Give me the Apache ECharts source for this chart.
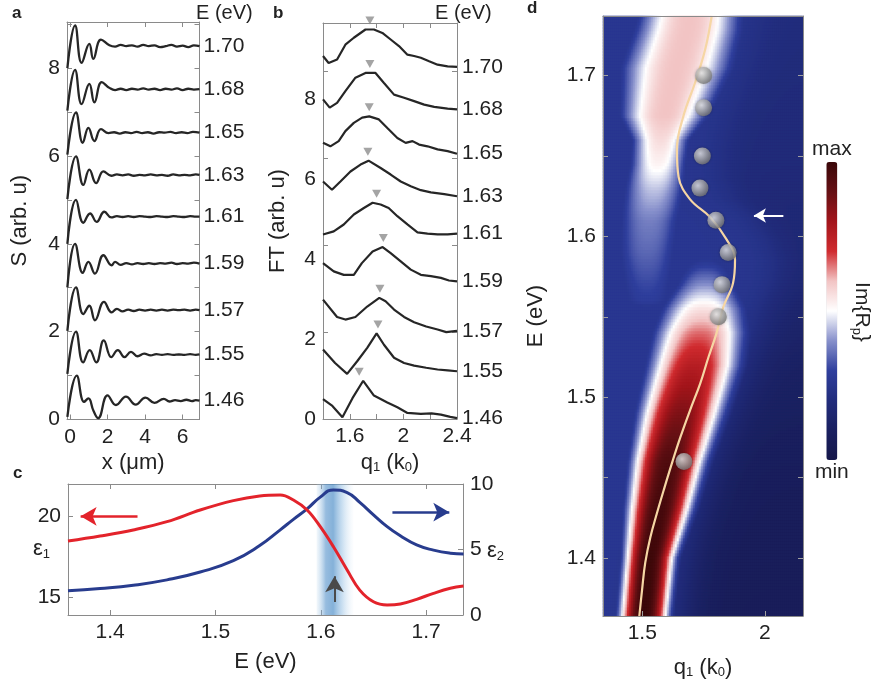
<!DOCTYPE html>
<html>
<head>
<meta charset="utf-8">
<title>Near-field profiles, spectra and dispersion</title>
<script src="https://cdn.jsdelivr.net/npm/echarts@6.0.0/dist/echarts.min.js"></script>
<style>
  html, body { margin: 0; padding: 0; background: #fff; }
  #chart { width: 876px; height: 685px; }
</style>
</head>
<body>
<div id="chart"></div>
<script>
// ---------------- data ----------------
// photon energies (eV) of the measured profiles, bottom to top
const energyLabels = ['1.46', '1.55', '1.57', '1.59', '1.61', '1.63', '1.65', '1.68', '1.70'];

// (a) near-field line profiles S(x), x in um, each offset by one unit
const profile146 = [[-0.14,0.06],[0.36,1.0],[0.75,0.4],[0.98,0.48],[1.25,0.2],[1.5,0.03],[2.0,0.55],[2.45,0.33],[2.98,0.52],[3.5,0.34],[4.02,0.5],[4.5,0.38],[5.0,0.47],[5.3,0.41],[5.6,0.44],[5.9,0.42],[6.2,0.45],[6.5,0.42],[6.7,0.44],[6.9,0.43]];
const profile155 = [[-0.14,1.04],[0.32,2.0],[0.7,1.3],[1.05,1.58],[1.4,1.3],[1.8,1.8],[2.2,1.42],[2.55,1.58],[2.9,1.42],[3.25,1.54],[3.6,1.44],[3.95,1.5],[4.3,1.46],[4.6,1.49],[4.9,1.47],[5.2,1.49],[5.5,1.47],[5.8,1.48],[6.1,1.47],[6.4,1.49],[6.7,1.47],[6.9,1.48]];
const profile157 = [[-0.14,2.02],[0.32,3.01],[0.71,2.4],[1.03,2.59],[1.33,2.26],[1.81,2.68],[2.22,2.44],[2.5,2.52],[2.8,2.46],[3.1,2.5],[3.4,2.47],[3.7,2.5],[4.0,2.48],[4.3,2.5],[4.6,2.48],[4.9,2.5],[5.2,2.48],[5.5,2.5],[5.8,2.49],[6.1,2.5],[6.4,2.48],[6.7,2.5],[6.9,2.49]];
const profile159 = [[-0.14,3.01],[0.27,4.0],[0.68,3.34],[0.98,3.59],[1.33,3.32],[1.78,3.74],[2.22,3.51],[2.4,3.59],[2.7,3.52],[3.0,3.56],[3.3,3.53],[3.6,3.56],[3.9,3.54],[4.2,3.56],[4.5,3.54],[4.8,3.56],[5.1,3.55],[5.4,3.57],[5.7,3.54],[6.0,3.56],[6.3,3.55],[6.6,3.57],[6.9,3.55]];
const profile161 = [[-0.14,4.0],[0.32,5.0],[0.71,4.48],[1.07,4.69],[1.42,4.5],[1.83,4.73],[2.2,4.6],[2.5,4.63],[2.8,4.61],[3.1,4.63],[3.4,4.61],[3.7,4.63],[4.0,4.62],[4.3,4.61],[4.6,4.63],[4.9,4.62],[5.2,4.61],[5.5,4.63],[5.8,4.62],[6.1,4.61],[6.4,4.63],[6.7,4.62],[6.9,4.62]];
const profile163 = [[-0.14,5.02],[0.32,5.99],[0.71,5.34],[1.03,5.69],[1.39,5.38],[1.78,5.65],[2.2,5.55],[2.5,5.58],[2.8,5.56],[3.1,5.58],[3.4,5.55],[3.7,5.57],[4.0,5.56],[4.3,5.58],[4.6,5.56],[4.9,5.57],[5.2,5.55],[5.5,5.58],[5.8,5.56],[6.1,5.57],[6.4,5.56],[6.7,5.58],[6.9,5.57]];
const profile165 = [[-0.14,6.03],[0.32,6.99],[0.68,6.3],[0.98,6.64],[1.3,6.34],[1.65,6.61],[2.05,6.52],[2.35,6.54],[2.65,6.51],[2.95,6.54],[3.25,6.52],[3.55,6.55],[3.85,6.52],[4.15,6.54],[4.45,6.51],[4.75,6.54],[5.05,6.53],[5.35,6.55],[5.65,6.52],[5.95,6.54],[6.25,6.52],[6.55,6.55],[6.9,6.53]];
const profile168 = [[-0.14,7.03],[0.27,7.96],[0.62,7.18],[1.03,7.64],[1.3,7.22],[1.69,7.68],[2.1,7.55],[2.4,7.5],[2.7,7.53],[3.0,7.5],[3.3,7.53],[3.6,7.51],[3.9,7.54],[4.2,7.51],[4.5,7.53],[4.8,7.5],[5.1,7.53],[5.4,7.51],[5.7,7.54],[6.0,7.5],[6.3,7.53],[6.6,7.51],[6.9,7.52]];
const profile170 = [[-0.14,8.0],[0.27,8.97],[0.62,8.12],[1.03,8.55],[1.24,8.21],[1.65,8.65],[2.1,8.52],[2.4,8.49],[2.7,8.53],[3.0,8.5],[3.3,8.52],[3.6,8.49],[3.9,8.53],[4.2,8.5],[4.5,8.52],[4.8,8.48],[5.1,8.5],[5.4,8.53],[5.7,8.49],[6.0,8.51],[6.3,8.48],[6.6,8.52],[6.9,8.5]];
const profiles = [profile146, profile155, profile157, profile159, profile161, profile163, profile165, profile168, profile170];

// (b) Fourier spectra FT(q1), q1 in k0, offset by one unit
const spectrum146 = [[1.40,0.46],[1.47,0.30],[1.545,0.04],[1.62,0.48],[1.70,0.88],[1.78,0.54],[1.88,0.38],[1.955,0.27],[2.03,0.14],[2.13,0.12],[2.21,0.13],[2.28,0.10],[2.35,0.05],[2.40,0.02]];
const spectrum155 = [[1.40,1.60],[1.49,1.29],[1.58,1.04],[1.655,1.33],[1.73,1.64],[1.80,1.97],[1.855,1.71],[1.93,1.41],[2.005,1.29],[2.08,1.23],[2.17,1.18],[2.255,1.14],[2.33,1.12],[2.40,1.10]];
const spectrum157 = [[1.40,2.75],[1.505,2.35],[1.567,2.29],[1.642,2.35],[1.73,2.59],[1.82,2.79],[1.867,2.71],[1.93,2.52],[2.005,2.35],[2.08,2.23],[2.17,2.13],[2.255,2.06],[2.32,2.0],[2.40,2.03]];
const spectrum159 = [[1.40,3.59],[1.48,3.40],[1.555,3.32],[1.63,3.32],[1.69,3.59],[1.77,3.86],[1.845,3.96],[1.905,3.82],[1.98,3.63],[2.055,3.44],[2.13,3.32],[2.205,3.29],[2.28,3.25],[2.34,3.19],[2.40,3.17]];
const spectrum161 = [[1.40,4.25],[1.48,4.32],[1.555,4.48],[1.63,4.71],[1.705,4.86],[1.77,4.98],[1.83,4.94],[1.89,4.86],[1.955,4.67],[2.03,4.48],[2.105,4.30],[2.18,4.27],[2.255,4.25],[2.33,4.25],[2.40,4.27]];
const spectrum163 = [[1.40,5.47],[1.467,5.28],[1.53,5.47],[1.605,5.70],[1.68,5.86],[1.74,5.95],[1.83,5.78],[1.905,5.63],[1.98,5.47],[2.055,5.36],[2.13,5.27],[2.205,5.22],[2.305,5.18],[2.40,5.13]];
const spectrum165 = [[1.40,6.36],[1.455,6.28],[1.517,6.40],[1.567,6.63],[1.63,6.82],[1.692,6.94],[1.745,6.97],[1.817,6.90],[1.88,6.70],[1.955,6.47],[2.017,6.36],[2.068,6.40],[2.117,6.32],[2.18,6.28],[2.255,6.21],[2.33,6.17],[2.40,6.11]];
const spectrum168 = [[1.40,7.36],[1.45,7.17],[1.505,7.28],[1.567,7.55],[1.642,7.86],[1.717,7.97],[1.792,7.97],[1.855,7.74],[1.93,7.47],[2.005,7.40],[2.08,7.32],[2.155,7.24],[2.23,7.19],[2.33,7.15],[2.40,7.13]];
const spectrum170 = [[1.40,8.36],[1.442,8.20],[1.505,8.28],[1.567,8.62],[1.63,8.78],[1.717,8.97],[1.78,8.97],[1.843,8.89],[1.905,8.74],[1.967,8.59],[2.03,8.39],[2.08,8.36],[2.13,8.32],[2.192,8.24],[2.255,8.16],[2.33,8.12],[2.40,8.11]];
const spectra = [spectrum146, spectrum155, spectrum157, spectrum159, spectrum161, spectrum163, spectrum165, spectrum168, spectrum170];

// FT peak positions (q1 in k0) and peak heights, one per energy
const peakQ  = [1.67, 1.81, 1.825, 1.85, 1.80, 1.735, 1.745, 1.75, 1.75];
const peakFT = [0.88, 1.97, 2.79, 3.96, 4.98, 5.95, 6.97, 7.97, 8.97];

// (c) dielectric function of the film
const dielE = [1.36,1.3905,1.422,1.454,1.4855,1.517,1.542,1.5615,1.574,1.587,1.5995,1.612,1.625,1.637,1.650,1.663,1.6755,1.691,1.707,1.723,1.7355];
const eps1  = [18.47,18.78,19.16,19.67,20.39,20.97,21.26,21.32,21.01,20.39,19.36,18.12,16.68,15.44,14.72,14.52,14.58,14.87,15.24,15.55,15.69];
const eps2  = [1.85,2.02,2.27,2.68,3.28,4.15,5.3,6.5,7.3,8.1,9.0,9.55,9.35,8.6,7.65,6.75,6.05,5.35,4.95,4.72,4.66];

// (d) calculated dispersion ridge (E in eV, q1 in k0)
const ridgeE = [1.364,1.380,1.397,1.413,1.428,1.442,1.459,1.475,1.492,1.5085,1.525,1.540,1.556,1.571,1.5855,1.598,1.612,1.623,1.637,1.654,1.675,1.6955,1.716,1.737];
const ridgeQ = [1.488,1.499,1.512,1.533,1.560,1.587,1.621,1.655,1.695,1.736,1.770,1.803,1.830,1.870,1.878,1.844,1.776,1.695,1.648,1.641,1.668,1.715,1.756,1.783];

// Im{Rp} map: lower lobe, its centre, width and peak level
const lowLobeE  = [1.36, 1.40, 1.43, 1.46, 1.49, 1.52, 1.54, 1.555, 1.57, 1.59, 1.61];
const lowLobeQ  = [1.505, 1.531, 1.57, 1.608, 1.658, 1.712, 1.736, 1.75, 1.76, 1.76, 1.76];
const lowLobeW  = [0.102, 0.106, 0.133, 0.152, 0.176, 0.194, 0.2, 0.19, 0.16, 0.14, 0.12];
const lowLobePk = [1.0, 0.99, 0.975, 0.95, 0.86, 0.76, 0.66, 0.55, 0.40, 0.22, 0];
// upper lobe
const upLobeE  = [1.53, 1.56, 1.59, 1.61, 1.63, 1.645, 1.66, 1.675, 1.705, 1.728, 1.74];
const upLobeQ  = [1.52, 1.52, 1.52, 1.53, 1.55, 1.565, 1.575, 1.59, 1.64, 1.685, 1.70];
const upLobeW  = [0.17, 0.17, 0.17, 0.165, 0.15, 0.13, 0.13, 0.195, 0.245, 0.235, 0.225];
const upLobePk = [0, 0.29, 0.35, 0.38, 0.45, 0.52, 0.56, 0.6, 0.6, 0.6, 0.6];
// background level far from the ridge (right side) and near it
const bgE     = [1.36, 1.45, 1.52, 1.58, 1.65, 1.74];
const bgRight = [0.07, 0.08, 0.11, 0.16, 0.19, 0.2];
const bgNear  = 0.26;

// colour scale of the map, min to max
const mapColors = ['#15174a','#1a2060','#212c7c','#2f3f9d','#8790cb','#ffffff','#f2c4c4','#d02b2f','#a3151b','#661014','#3a0709'];

// ---------------- helpers ----------------
const FONT = '"Liberation Sans", Arial, Helvetica, sans-serif';
const INK = '#222';
const FRAME = '#8a8a8a';
const TICK_FS = 21;
const NAME_FS = 22;
const subRich = { sub: { fontSize: 13, fontFamily: FONT, color: INK, padding: [10, 0, 0, 0] } };

function lerp(xs, ys, x) {
  const n = xs.length;
  if (x <= xs[0]) return ys[0];
  if (x >= xs[n - 1]) return ys[n - 1];
  let i = 1;
  while (xs[i] < x) i++;
  const t = (x - xs[i - 1]) / (xs[i] - xs[i - 1]);
  return ys[i - 1] + t * (ys[i] - ys[i - 1]);
}
function lobe(q, E, es, qs, ws, pks) {
  const pk = lerp(es, pks, E);
  if (pk <= 0) return 0;
  const d = Math.abs(q - lerp(es, qs, E)) / lerp(es, ws, E);
  return pk * Math.exp(-Math.pow(d, 2.5));
}
function mapValue(q, E) {
  const r = lerp(ridgeE, ridgeQ, E);
  const far = lerp(bgE, bgRight, E);
  const s = 1 / (1 + Math.exp((q - r - 0.18) / 0.05));
  const base = far + (bgNear - far) * s;
  return Math.min(1, Math.max(base,
    lobe(q, E, lowLobeE, lowLobeQ, lowLobeW, lowLobePk),
    lobe(q, E, upLobeE, upLobeQ, upLobeW, upLobePk)));
}

function axis(o) {
  return {
    type: 'value', gridIndex: o.grid, position: o.pos, min: o.min, max: o.max,
    z: o.z || 0, silent: true,
    axisLine: { show: o.line !== false, onZero: false, lineStyle: { color: FRAME, width: 1 } },
    axisTick: { show: !!o.ticks, inside: true, length: 5, customValues: o.ticks,
                lineStyle: { color: o.tickColor || FRAME, width: 1 } },
    axisLabel: { show: !!o.labels, customValues: o.labels, color: INK, fontSize: TICK_FS,
                 fontFamily: FONT, margin: o.margin == null ? 7 : o.margin },
    splitLine: { show: false },
    name: o.name || '', nameLocation: 'middle', nameGap: o.nameGap || 0,
    nameTextStyle: { color: INK, fontSize: NAME_FS, fontFamily: FONT, rich: subRich }
  };
}

// ---------------- map cells ----------------
const qMin = 1.34, qMax = 2.155, eMin = 1.364, eMax = 1.737;
const heatCols = 100, heatRows = 200;
const heatData = [];
for (let j = 0; j < heatRows; j++) {
  const E = eMin + (j + 0.5) * (eMax - eMin) / heatRows;
  for (let i = 0; i < heatCols; i++) {
    const q = qMin + (i + 0.5) * (qMax - qMin) / heatCols;
    heatData.push([i, j, +mapValue(q, E).toFixed(3)]);
  }
}
const colIdx = Array.from({ length: heatCols }, (_, i) => i);
const rowIdx = Array.from({ length: heatRows }, (_, j) => j);

// ---------------- layout ----------------
const grids = [
  { left: 67, top: 22, width: 132.5, height: 397.5 },   // a
  { left: 323, top: 23, width: 134, height: 396 },      // b
  { left: 68, top: 484, width: 395, height: 131 },      // c
  { left: 603, top: 16, width: 200, height: 600 },      // d (axes, ridge, points)
  { left: 603, top: 16, width: 200, height: 600 }       // d (map cells)
];

const xAxes = [
  axis({ grid: 0, pos: 'bottom', min: -0.16, max: 6.9, ticks: [0, 2, 4, 6], labels: [0, 2, 4, 6], name: 'x (\u03bcm)', nameGap: 23 }),
  axis({ grid: 0, pos: 'top', min: -0.16, max: 6.9, ticks: [0, 2, 4, 6] }),
  axis({ grid: 1, pos: 'bottom', min: 1.4, max: 2.4, ticks: [1.4, 1.6, 1.8, 2.0, 2.2, 2.4], labels: [1.6, 2, 2.4], name: 'q{sub|1} (k{sub|0})', nameGap: 26 }),
  axis({ grid: 1, pos: 'top', min: 1.4, max: 2.4, ticks: [1.4, 1.6, 1.8, 2.0, 2.2, 2.4] }),
  axis({ grid: 2, pos: 'bottom', min: 1.36, max: 1.735, ticks: [1.4, 1.5, 1.6, 1.7], labels: [1.4, 1.5, 1.6, 1.7], name: 'E (eV)', nameGap: 36 }),
  axis({ grid: 2, pos: 'top', min: 1.36, max: 1.735, ticks: [1.4, 1.5, 1.6, 1.7] }),
  axis({ grid: 3, pos: 'bottom', min: qMin, max: qMax, ticks: [1.5, 2], labels: [1.5, 2], name: 'q{sub|1} (k{sub|0})', nameGap: 40, z: 5, tickColor: '#a0a0a0' }),
  axis({ grid: 3, pos: 'top', min: qMin, max: qMax, z: 5 }),
  { type: 'category', gridIndex: 4, data: colIdx, show: false }
];
const yAxes = [
  axis({ grid: 0, pos: 'left', min: 0, max: 9.05, ticks: [0,1,2,3,4,5,6,7,8,9], labels: [0, 2, 4, 6, 8], name: 'S (arb. u)', nameGap: 36 }),
  axis({ grid: 0, pos: 'right', min: 0, max: 9.05, ticks: [0,1,2,3,4,5,6,7,8,9] }),
  axis({ grid: 1, pos: 'left', min: 0, max: 9.12, ticks: [0, 2, 4, 6, 8], name: 'FT (arb. u)', nameGap: 34 }),
  axis({ grid: 1, pos: 'right', min: 0, max: 9.12, ticks: [0, 2, 4, 6, 8] }),
  axis({ grid: 1, pos: 'left', min: 0, max: 9.9, line: false, labels: [0, 2, 4, 6, 8] }),
  axis({ grid: 2, pos: 'left', min: 13.9, max: 22, ticks: [15, 20], labels: [15, 20] }),
  axis({ grid: 2, pos: 'right', min: 0, max: 10, ticks: [0, 5, 10], labels: [0, 5, 10] }),
  axis({ grid: 3, pos: 'left', min: eMin, max: eMax, ticks: [1.4, 1.45, 1.5, 1.55, 1.6, 1.65, 1.7], labels: [1.4, 1.5, 1.6, 1.7], name: 'E (eV)', nameGap: 56, z: 5, tickColor: '#a0a0a0' }),
  axis({ grid: 3, pos: 'right', min: eMin, max: eMax, ticks: [1.4, 1.45, 1.5, 1.55, 1.6, 1.65, 1.7], z: 5, tickColor: '#a0a0a0' }),
  { type: 'category', gridIndex: 4, data: rowIdx, show: false }
];

const series = [];

// (d) map cells
series.push({
  type: 'heatmap', xAxisIndex: 8, yAxisIndex: 9, data: heatData,
  progressive: 0, silent: true, itemStyle: { borderWidth: 0 }, emphasis: { disabled: true }, z: 1
});

// (a) profiles
profiles.forEach((pts, k) => {
  series.push({
    type: 'line', xAxisIndex: 0, yAxisIndex: 0, data: pts, smooth: 0.45, showSymbol: false,
    lineStyle: { color: '#262626', width: 2.3 }, silent: true,
    endLabel: { show: true, formatter: energyLabels[k], color: INK, fontSize: TICK_FS, fontFamily: FONT, distance: 4 }
  });
});

// (b) spectra
spectra.forEach((pts, k) => {
  series.push({
    type: 'line', xAxisIndex: 2, yAxisIndex: 2, data: pts, smooth: false, showSymbol: false,
    lineStyle: { color: '#262626', width: 2.2 }, silent: true,
    endLabel: { show: true, formatter: energyLabels[k], color: INK, fontSize: TICK_FS, fontFamily: FONT, distance: 5 }
  });
});
series.push({
  type: 'scatter', xAxisIndex: 2, yAxisIndex: 2, data: peakQ.map((q, i) => [q, peakFT[i]]),
  symbol: 'triangle', symbolRotate: 180, symbolSize: [9, 8], symbolOffset: [0, -9],
  itemStyle: { color: '#8d8d8d' }, clip: false, silent: true, z: 3
});

// (c) dielectric function
series.push({
  type: 'line', xAxisIndex: 4, yAxisIndex: 6, data: dielE.map((e, i) => [e, eps2[i]]),
  smooth: 0.5, showSymbol: false, lineStyle: { color: '#283c8e', width: 3 }, silent: true, z: 3,
  markArea: {
    silent: true,
    itemStyle: {
      color: new echarts.graphic.LinearGradient(0, 0, 1, 0, [
        { offset: 0, color: 'rgba(170,205,232,0.15)' },
        { offset: 0.25, color: 'rgba(95,152,205,0.65)' },
        { offset: 0.45, color: 'rgba(85,147,202,0.72)' },
        { offset: 0.7, color: 'rgba(140,186,225,0.45)' },
        { offset: 1, color: 'rgba(205,225,242,0.05)' }
      ])
    },
    data: [[{ xAxis: 1.596 }, { xAxis: 1.631 }]]
  },
  markLine: {
    silent: true, symbol: ['none', 'arrow'], symbolSize: [14, 16], label: { show: false },
    data: [
      [{ coord: [1.613, 1.0], lineStyle: { color: '#4a4a4a', width: 2, type: 'solid' } }, { coord: [1.613, 2.95] }],
      [{ coord: [1.668, 7.85], lineStyle: { color: '#283c8e', width: 2.5, type: 'solid' } }, { coord: [1.722, 7.85] }]
    ]
  }
});
series.push({
  type: 'line', xAxisIndex: 4, yAxisIndex: 5, data: dielE.map((e, i) => [e, eps1[i]]),
  smooth: 0.4, showSymbol: false, lineStyle: { color: '#e3232b', width: 3 }, silent: true, z: 4,
  markLine: {
    silent: true, symbol: ['none', 'arrow'], symbolSize: [14, 16], label: { show: false },
    data: [[{ coord: [1.426, 20], lineStyle: { color: '#e3232b', width: 2.5, type: 'solid' } }, { coord: [1.372, 20] }]]
  }
});

// (d) ridge, measured peaks and the marker arrow
series.push({
  type: 'line', xAxisIndex: 6, yAxisIndex: 7, data: ridgeQ.map((q, i) => [q, ridgeE[i]]),
  smooth: 0.4, showSymbol: false, lineStyle: { color: '#f6d6a4', width: 2.2 }, silent: true, z: 3,
  markLine: {
    silent: true, symbol: ['none', 'arrow'], symbolSize: [11, 12], label: { show: false },
    data: [[{ coord: [2.075, 1.613], lineStyle: { color: '#ffffff', width: 2, type: 'solid' } }, { coord: [1.955, 1.613] }]]
  }
});
series.push({
  type: 'scatter', xAxisIndex: 6, yAxisIndex: 7,
  data: peakQ.map((q, i) => [q, Number(energyLabels[i])]),
  symbol: 'circle', symbolSize: 17, silent: true, z: 4,
  itemStyle: {
    color: { type: 'radial', x: 0.38, y: 0.35, r: 0.7, colorStops: [
      { offset: 0, color: '#eeeeee' }, { offset: 0.55, color: '#a9a9a9' }, { offset: 1, color: '#707070' }] },
    shadowBlur: 3, shadowColor: 'rgba(0,0,0,0.35)'
  }
});

// ---------------- free text ----------------
function txt(x, y, text, extra) {
  return {
    type: 'text', x: x, y: y, silent: true,
    style: Object.assign({ text: text, fill: INK, fontSize: 20, fontFamily: FONT,
                           textVerticalAlign: 'middle', rich: subRich }, extra || {})
  };
}
const graphic = [
  txt(12, 13, 'a', { fontWeight: 'bold', fontSize: 17 }),
  txt(196, 13, 'E (eV)'),
  txt(273, 13, 'b', { fontWeight: 'bold', fontSize: 17 }),
  txt(435, 13, 'E (eV)'),
  txt(13, 473, 'c', { fontWeight: 'bold', fontSize: 17 }),
  txt(527, 8, 'd', { fontWeight: 'bold', fontSize: 17 }),
  txt(33, 549, '\u03b5{sub|1}', { fontSize: 22 }),
  txt(487, 551, '\u03b5{sub|2}', { fontSize: 22 }),
  Object.assign(txt(862, 312, 'Im{R{sub|p}}', { fontSize: 21, textAlign: 'center' }), { rotation: -Math.PI / 2 })
];

const chart = echarts.init(document.getElementById('chart'), null, { renderer: 'canvas' });
chart.setOption({
  animation: false,
  backgroundColor: '#ffffff',
  grid: grids,
  xAxis: xAxes,
  yAxis: yAxes,
  visualMap: {
    type: 'continuous', seriesIndex: 0, min: 0, max: 1, calculable: false, hoverLink: false,
    orient: 'vertical', left: 797, top: 124, itemWidth: 11, itemHeight: 298,
    text: ['max', 'min'], textGap: 2,
    textStyle: { color: INK, fontSize: 21, fontFamily: FONT },
    inRange: { color: mapColors }
  },
  series: series,
  graphic: graphic
});
</script>
</body>
</html>
